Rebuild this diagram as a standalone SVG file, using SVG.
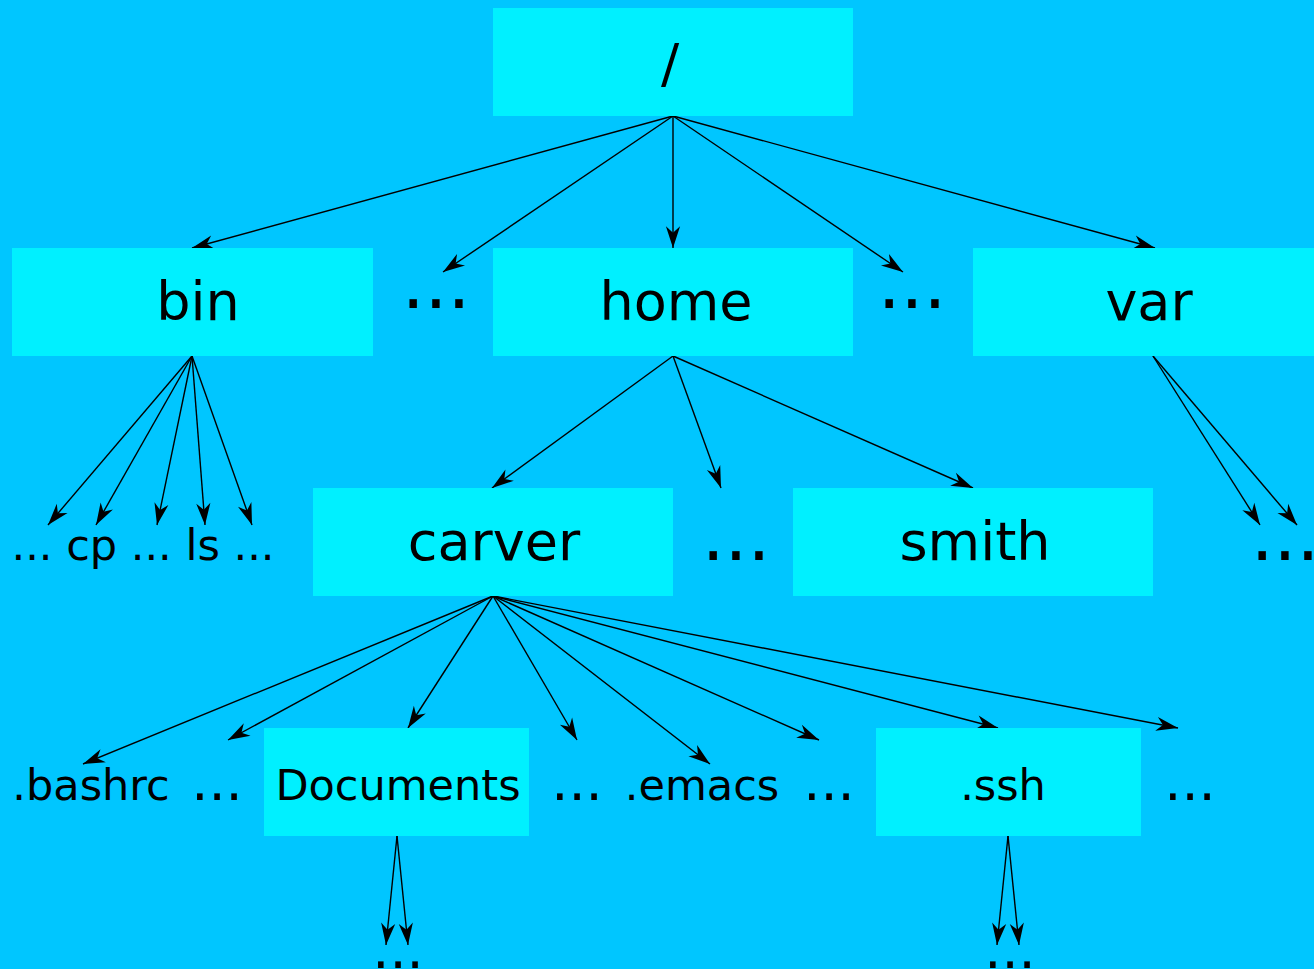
<svg xmlns="http://www.w3.org/2000/svg" width="1314" height="969" viewBox="0 0 1314 969">
<style>
.bg{fill:#00c6ff}
.box{fill:#00f0ff}
text{font-family:"DejaVu Sans","Liberation Sans",sans-serif;fill:#000;text-anchor:middle}
.big{font-size:54px}
.mid{font-size:43px}
.dots72{font-size:72px}
.dots54{font-size:54px}
.edge{stroke:#000;stroke-width:1.4;fill:none;marker-end:url(#ah)}
</style>
<defs>
<marker id="ah" markerUnits="userSpaceOnUse" markerWidth="24" markerHeight="16" viewBox="-21 -7 22 14" refX="0" refY="0" orient="auto">
<path d="M0,0 L-20,-6.5 L-14,0 L-20,6.5 Z" fill="#000"/>
</marker>
</defs>
<rect class="bg" x="0" y="0" width="1314" height="969"/>
<g id="connectors">
<line class="edge" x1="673" y1="116" x2="192" y2="248"/>
<line class="edge" x1="673" y1="116" x2="443" y2="272"/>
<line class="edge" x1="673" y1="116" x2="673" y2="248"/>
<line class="edge" x1="673" y1="116" x2="903" y2="272"/>
<line class="edge" x1="673" y1="116" x2="1155" y2="248"/>
<line class="edge" x1="192" y1="356" x2="48" y2="525"/>
<line class="edge" x1="192" y1="356" x2="96" y2="525"/>
<line class="edge" x1="192" y1="356" x2="157" y2="525"/>
<line class="edge" x1="192" y1="356" x2="205" y2="525"/>
<line class="edge" x1="192" y1="356" x2="252" y2="525"/>
<line class="edge" x1="673" y1="356" x2="492" y2="488"/>
<line class="edge" x1="673" y1="356" x2="721" y2="488"/>
<line class="edge" x1="673" y1="356" x2="973" y2="488"/>
<line class="edge" x1="1153" y1="356" x2="1260" y2="525"/>
<line class="edge" x1="1153" y1="356" x2="1297" y2="525"/>
<line class="edge" x1="493" y1="596" x2="83" y2="764"/>
<line class="edge" x1="493" y1="596" x2="228" y2="740"/>
<line class="edge" x1="493" y1="596" x2="408" y2="728"/>
<line class="edge" x1="493" y1="596" x2="577" y2="740"/>
<line class="edge" x1="493" y1="596" x2="710" y2="764"/>
<line class="edge" x1="493" y1="596" x2="819" y2="740"/>
<line class="edge" x1="493" y1="596" x2="998" y2="728"/>
<line class="edge" x1="493" y1="596" x2="1178" y2="728"/>
<line class="edge" x1="397" y1="836" x2="386" y2="945"/>
<line class="edge" x1="397" y1="836" x2="408" y2="945"/>
<line class="edge" x1="1008" y1="836" x2="997" y2="945"/>
<line class="edge" x1="1008" y1="836" x2="1019" y2="945"/>
</g>
<g id="root"><rect class="box" x="493" y="8" width="360" height="108"/><text class="big" x="670" y="82">/</text></g>
<g id="bin"><rect class="box" x="12" y="248" width="361" height="108"/><text class="big" x="198" y="320">bin</text></g>
<g id="home"><rect class="box" x="493" y="248" width="360" height="108"/><text class="big" x="676" y="320">home</text></g>
<g id="var"><rect class="box" x="973" y="248" width="360" height="108"/><text class="big" x="1149" y="320">var</text></g>
<g id="carver"><rect class="box" x="313" y="488" width="360" height="108"/><text class="big" x="494" y="560">carver</text></g>
<g id="smith"><rect class="box" x="793" y="488" width="360" height="108"/><text class="big" x="975" y="560">smith</text></g>
<g id="documents"><rect class="box" x="264" y="728" width="265" height="108"/><text class="mid" x="398" y="800">Documents</text></g>
<g id="ssh"><rect class="box" x="876" y="728" width="265" height="108"/><text class="mid" x="1003" y="800">.ssh</text></g>
<g id="bin-files"><text class="mid" x="143" y="560">... cp ... ls ...</text></g>
<g id="bashrc"><text class="mid" x="91" y="800">.bashrc</text></g>
<g id="emacs"><text class="mid" x="702" y="800">.emacs</text></g>
<g id="more-root-1"><text class="dots72" x="436" y="308">...</text></g>
<g id="more-root-2"><text class="dots72" x="912" y="308">...</text></g>
<g id="more-home"><text class="dots72" x="736" y="560">...</text></g>
<g id="more-var"><text class="dots72" x="1285" y="560">...</text></g>
<g id="more-carver-1"><text class="dots54" x="217" y="800">...</text></g>
<g id="more-carver-2"><text class="dots54" x="577" y="800">...</text></g>
<g id="more-carver-3"><text class="dots54" x="829" y="800">...</text></g>
<g id="more-carver-4"><text class="dots54" x="1190" y="800">...</text></g>
<g id="more-documents"><text class="dots54" x="398" y="968">...</text></g>
<g id="more-ssh"><text class="dots54" x="1010" y="968">...</text></g>
</svg>
